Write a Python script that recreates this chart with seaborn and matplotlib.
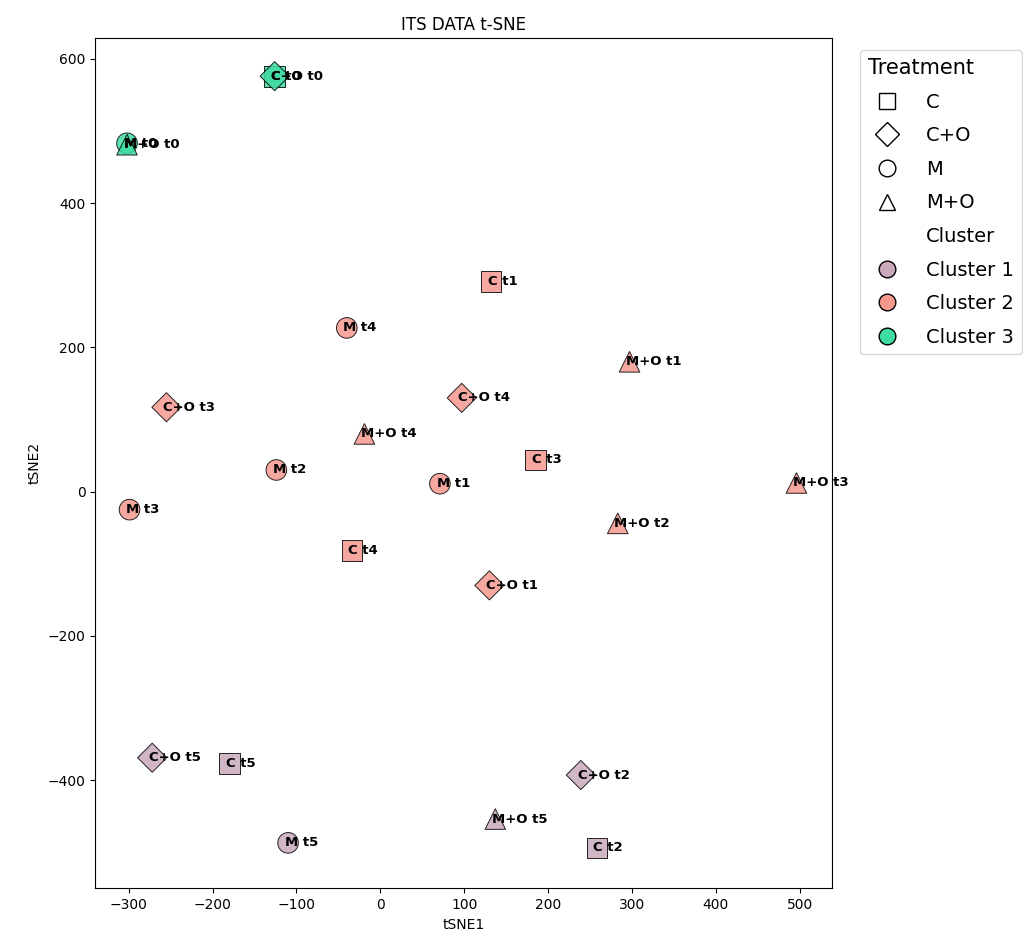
import matplotlib
matplotlib.use("Agg")
import matplotlib.pyplot as plt
import seaborn as sns
import pandas as pd
from matplotlib.lines import Line2D

# 样本数据
labels = ["C t0", "C+O t0", "M t0", "M+O t0",
          "C t1", "C+O t1", "M t1", "M+O t1",
          "C t2", "C+O t2", "M t2", "M+O t2",
          "C t3", "C+O t3", "M t3", "M+O t3",
          "C t4", "C+O t4", "M t4", "M+O t4",
          "C t5", "C+O t5", "M t5", "M+O t5"]
treatment = ["C", "C+O", "M", "M+O"] * 6
tsne1 = [-126, -126, -302, -302,
         132, 130, 71, 297,
         258, 239, -124, 283,
         185, -255, -299, 496,
         -34, 97, -40, -19,
         -180, -272, -110, 137]
tsne2 = [576, 576, 483, 481,
         291, -130, 11, 180,
         -494, -393, 30, -44,
         44, 117, -25, 12,
         -82, 130, 227, 80,
         -377, -369, -487, -454]
cluster = ["Cluster 3", "Cluster 3", "Cluster 3", "Cluster 3",
           "Cluster 2", "Cluster 2", "Cluster 2", "Cluster 2",
           "Cluster 1", "Cluster 1", "Cluster 2", "Cluster 2",
           "Cluster 2", "Cluster 2", "Cluster 2", "Cluster 2",
           "Cluster 2", "Cluster 2", "Cluster 2", "Cluster 2",
           "Cluster 1", "Cluster 1", "Cluster 1", "Cluster 1"]

treatment_order = ["C", "C+O", "M", "M+O"]
cluster_order = ["Cluster 1", "Cluster 2", "Cluster 3"]
markers = {"C": "s", "C+O": "D", "M": "o", "M+O": "^"}
palette = {"Cluster 1": "#c9a9bb", "Cluster 2": "#f5998f", "Cluster 3": "#3fdca2"}

df = pd.DataFrame({"tSNE1": tsne1, "tSNE2": tsne2, "Treatment": treatment,
                   "Cluster": cluster, "Label": labels})

fig = plt.figure(figsize=(10.23, 9.38), dpi=100)
ax = fig.add_axes([0.093, 0.053, 0.72, 0.9065])

sns.scatterplot(data=df, x="tSNE1", y="tSNE2", hue="Cluster", style="Treatment",
                markers=markers, palette=palette, hue_order=cluster_order,
                style_order=treatment_order, s=220, edgecolor="black",
                linewidth=0.7, alpha=0.85, legend=False, ax=ax)

# 标注每个点
for _, row in df.iterrows():
    ax.text(row["tSNE1"] - 4, row["tSNE2"], row["Label"], fontsize=9.5,
            fontweight="bold", ha="left", va="center")

ax.set_xlim(-340, 538)
ax.set_ylim(-550, 629)
ax.set_title("ITS DATA t-SNE", fontsize=12)
ax.set_xlabel("tSNE1")
ax.set_ylabel("tSNE2")

# 自定义图例
handles = [Line2D([0], [0], marker=markers[t], color="w", markerfacecolor="white",
                  markeredgecolor="black", markersize=12, linestyle="")
           for t in treatment_order]
names = list(treatment_order)
handles.append(Line2D([0], [0], color="w", linestyle=""))
names.append("Cluster")
for c in cluster_order:
    handles.append(Line2D([0], [0], marker="o", color="w", markerfacecolor=palette[c],
                          markeredgecolor="black", markersize=12, linestyle=""))
    names.append(c)
leg = ax.legend(handles, names, title="Treatment", loc="upper left",
                bbox_to_anchor=(1.025, 0.997), fontsize=14, title_fontsize=15,
                alignment="left", labelspacing=0.75, handletextpad=1.0)

fig.savefig("out.png", dpi=100)
